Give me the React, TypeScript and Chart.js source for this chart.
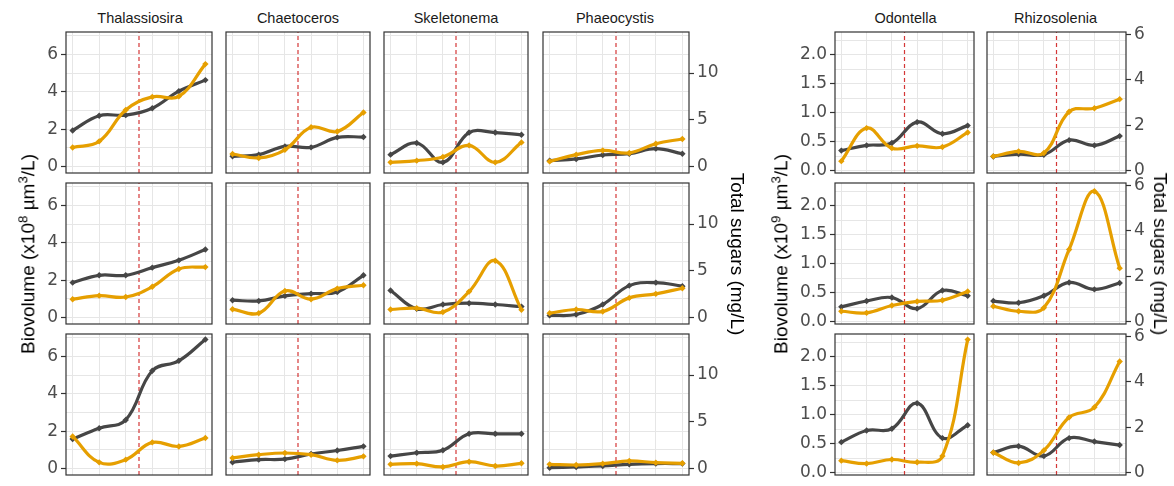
import React, { useEffect, useRef } from "react";
import { Chart, registerables } from "chart.js";

Chart.register(...registerables);

// ---------------- DATA ----------------
const TIMEPOINTS = [1, 2, 3, 4, 5, 6];
const INTERVENTION_X = 3.5;

const SPECIES_LEFT = ["Thalassiosira", "Chaetoceros", "Skeletonema", "Phaeocystis"];
const SPECIES_RIGHT = ["Odontella", "Rhizosolenia"];

// Biovolume per row (rows 1-3); left group in x10^8 µm³/L, right group in x10^9 µm³/L
const THALASSIOSIRA_BIO = [
  [1.93, 2.72, 2.75, 3.12, 4.03, 4.62],
  [1.87, 2.26, 2.26, 2.67, 3.06, 3.64],
  [1.58, 2.16, 2.6, 5.23, 5.76, 6.9],
];
const THALASSIOSIRA_SUGAR = [
  [2.05, 2.7, 6.05, 7.45, 7.5, 10.95],
  [1.97, 2.35, 2.2, 3.3, 5.2, 5.4],
  [3.44, 0.67, 0.96, 2.8, 2.37, 3.27],
];
const CHAETOCEROS_BIO = [
  [0.55, 0.64, 1.08, 1.03, 1.56, 1.58],
  [0.93, 0.89, 1.16, 1.28, 1.37, 2.26],
  [0.34, 0.48, 0.51, 0.78, 0.97, 1.19],
];
const CHAETOCEROS_SUGAR = [
  [1.35, 0.93, 1.8, 4.2, 3.76, 5.78],
  [0.9, 0.48, 2.85, 1.97, 3.1, 3.46],
  [1.14, 1.49, 1.67, 1.49, 0.88, 1.31],
];
const SKELETONEMA_BIO = [
  [0.64, 1.26, 0.23, 1.82, 1.82, 1.7],
  [1.45, 0.47, 0.7, 0.77, 0.7, 0.59],
  [0.67, 0.85, 0.98, 1.86, 1.86, 1.86],
];
const SKELETONEMA_SUGAR = [
  [0.46, 0.64, 1.03, 2.27, 0.46, 2.59],
  [0.87, 1.01, 0.59, 2.78, 6.08, 0.83],
  [0.46, 0.53, 0.18, 0.74, 0.28, 0.57],
];
const PHAEOCYSTIS_BIO = [
  [0.32, 0.41, 0.62, 0.69, 0.96, 0.69],
  [0.12, 0.17, 0.7, 1.71, 1.87, 1.68],
  [0.05, 0.09, 0.14, 0.23, 0.27, 0.27],
];
const PHAEOCYSTIS_SUGAR = [
  [0.56, 1.28, 1.73, 1.46, 2.45, 2.95],
  [0.48, 0.87, 0.66, 2.11, 2.54, 3.14],
  [0.46, 0.39, 0.53, 0.82, 0.64, 0.57],
];
const ODONTELLA_BIO = [
  [0.35, 0.44, 0.48, 0.84, 0.64, 0.78],
  [0.26, 0.36, 0.42, 0.23, 0.54, 0.45],
  [0.53, 0.73, 0.76, 1.2, 0.6, 0.82],
];
const ODONTELLA_SUGAR = [
  [0.43, 1.88, 1.0, 1.1, 1.05, 1.69],
  [0.47, 0.4, 0.72, 0.9, 0.95, 1.34],
  [0.54, 0.41, 0.59, 0.47, 0.74, 5.85],
];
const RHIZOSOLENIA_BIO = [
  [0.25, 0.29, 0.28, 0.53, 0.44, 0.6],
  [0.36, 0.33, 0.45, 0.68, 0.56, 0.67],
  [0.35, 0.46, 0.29, 0.6, 0.54, 0.48],
];
const RHIZOSOLENIA_SUGAR = [
  [0.64, 0.86, 0.79, 2.6, 2.75, 3.15],
  [0.69, 0.47, 0.62, 3.18, 5.73, 2.36],
  [0.9, 0.44, 0.99, 2.44, 2.88, 4.89],
];

// Axis ticks
const LEFT_BIO_TICKS = [0, 2, 4, 6];
const LEFT_BIO_GRID = [0, 1, 2, 3, 4, 5, 6, 7];
const LEFT_SUGAR_TICKS = [0, 5, 10];
const RIGHT_BIO_TICKS = [0, 0.5, 1, 1.5, 2];
const RIGHT_BIO_GRID = [0, 0.25, 0.5, 0.75, 1, 1.25, 1.5, 1.75, 2, 2.25];
const RIGHT_SUGAR_TICKS = [0, 2, 4, 6];
const LEFT_BIO_RANGE = [-0.34, 7.19];
const LEFT_SUGAR_FACTOR = 2;
const RIGHT_BIO_RANGE = [-0.035, 2.39];
const RIGHT_SUGAR_FACTOR = 2.55;
const X_RANGE = [0.75, 6.25];

// ---------------- STYLE / LAYOUT ----------------
const DARK = "#464646";
const ORANGE = "#E69F00";
const RED = "rgba(205,20,20,0.85)";
const GRID = "#e6e6e6";
const AXIS = "#333333";
const TICK_TEXT = "#4d4d4d";
const FONT = "'Liberation Sans', Arial, sans-serif";
const TICK_FONT = "'DejaVu Sans', 'Liberation Sans', sans-serif";

const ROWS_Y = [32, 183, 334];
const PANEL_H = 141;
const LEFT_COLS_X = [66, 224, 382, 541];
const LEFT_W = 148;
const RIGHT_COLS_X = [835, 985];
const RIGHT_W = 141;
const AXL = 60;
const AXR = 45;
const PAD = 2;
const PADV = 12;

type Group = {
  bioRange: number[];
  factor: number;
  bioTicks: number[];
  bioGrid: number[];
  sugarTicks: number[];
  fmt: (v: number) => string;
};

const LEFT_GROUP: Group = {
  bioRange: LEFT_BIO_RANGE,
  factor: LEFT_SUGAR_FACTOR,
  bioTicks: LEFT_BIO_TICKS,
  bioGrid: LEFT_BIO_GRID,
  sugarTicks: LEFT_SUGAR_TICKS,
  fmt: (v) => String(v),
};
const RIGHT_GROUP: Group = {
  bioRange: RIGHT_BIO_RANGE,
  factor: RIGHT_SUGAR_FACTOR,
  bioTicks: RIGHT_BIO_TICKS,
  bioGrid: RIGHT_BIO_GRID,
  sugarTicks: RIGHT_SUGAR_TICKS,
  fmt: (v) => v.toFixed(1),
};

const framePlugin = {
  id: "frame",
  afterDraw(chart: any) {
    const { ctx, chartArea: a } = chart;
    ctx.save();
    ctx.strokeStyle = AXIS;
    ctx.lineWidth = 1.2;
    ctx.strokeRect(a.left, a.top, a.right - a.left, a.bottom - a.top);
    ctx.restore();
  },
};

function zeroPad(s: any) {
  s.paddingTop = 0;
  s.paddingBottom = 0;
  s.paddingLeft = 0;
  s.paddingRight = 0;
}

type PanelProps = {
  bio: number[];
  sugar: number[];
  group: Group;
  x: number;
  y: number;
  w: number;
  h: number;
  first: boolean;
  last: boolean;
};

function Panel(p: PanelProps) {
  const ref = useRef<HTMLCanvasElement>(null);
  const extL = p.first ? AXL : PAD;
  const extR = p.last ? AXR : PAD;
  const cw = p.w + extL + extR;
  const ch = p.h + 2 * PADV;

  useEffect(() => {
    const g = p.group;
    const tickFont = { family: TICK_FONT, size: 17 };
    const chart = new Chart(ref.current as HTMLCanvasElement, {
      type: "line",
      data: {
        datasets: [
          {
            label: "Total sugars",
            data: TIMEPOINTS.map((t, i) => ({ x: t, y: p.sugar[i] })),
            yAxisID: "y2",
            borderColor: ORANGE,
            backgroundColor: ORANGE,
            borderWidth: 3.2,
            pointStyle: "rectRot",
            pointRadius: 3.2,
            pointBorderWidth: 0,
            tension: 0.4,
            order: 1,
          },
          {
            label: "Biovolume",
            data: TIMEPOINTS.map((t, i) => ({ x: t, y: p.bio[i] })),
            yAxisID: "y",
            borderColor: DARK,
            backgroundColor: DARK,
            borderWidth: 3.2,
            pointStyle: "rectRot",
            pointRadius: 3.2,
            pointBorderWidth: 0,
            tension: 0.4,
            order: 2,
          },
          {
            label: "Intervention",
            data: [
              { x: INTERVENTION_X, y: g.bioRange[0] },
              { x: INTERVENTION_X, y: g.bioRange[1] },
            ],
            yAxisID: "y",
            borderColor: RED,
            borderWidth: 1.2,
            borderDash: [4, 3],
            pointRadius: 0,
            tension: 0,
            order: 3,
          },
        ],
      } as any,
      options: {
        animation: false,
        responsive: false,
        events: [],
        layout: {
          padding: {
            left: p.first ? 0 : PAD,
            right: p.last ? 0 : PAD,
            top: PADV,
            bottom: PADV,
          },
        },
        plugins: { legend: { display: false }, tooltip: { enabled: false } },
        scales: {
          x: {
            type: "linear",
            min: X_RANGE[0],
            max: X_RANGE[1],
            afterBuildTicks: (s: any) => {
              s.ticks = TIMEPOINTS.map((v) => ({ value: v }));
            },
            afterFit: (s: any) => {
              s.height = 0;
              zeroPad(s);
            },
            ticks: { display: false },
            grid: { color: GRID, lineWidth: 1, drawTicks: false },
            border: { display: false },
          },
          y: {
            type: "linear",
            position: "left",
            min: g.bioRange[0],
            max: g.bioRange[1],
            afterBuildTicks: (s: any) => {
              s.ticks = g.bioGrid.map((v) => ({ value: v }));
            },
            afterFit: (s: any) => {
              s.width = p.first ? AXL : 0;
              zeroPad(s);
            },
            ticks: {
              display: p.first,
              autoSkip: false,
              padding: 3,
              font: tickFont,
              color: TICK_TEXT,
              callback: (v: any) => (g.bioTicks.includes(Number(v)) ? g.fmt(Number(v)) : ""),
            },
            grid: {
              color: GRID,
              lineWidth: 1,
              drawTicks: p.first,
              tickLength: 5,
              tickWidth: 1.2,
              tickColor: (c: any) =>
                c.tick && g.bioTicks.includes(c.tick.value) ? AXIS : "rgba(0,0,0,0)",
            },
            border: { display: false },
          },
          y2: {
            type: "linear",
            position: "right",
            display: p.last,
            min: g.bioRange[0] * g.factor,
            max: g.bioRange[1] * g.factor,
            afterBuildTicks: (s: any) => {
              s.ticks = g.sugarTicks.map((v) => ({ value: v }));
            },
            afterFit: (s: any) => {
              s.width = p.last ? AXR : 0;
              zeroPad(s);
            },
            ticks: {
              autoSkip: false,
              padding: 3,
              font: tickFont,
              color: TICK_TEXT,
              callback: (v: any) => String(v),
            },
            grid: {
              drawOnChartArea: false,
              drawTicks: true,
              tickLength: 5,
              tickWidth: 1.2,
              tickColor: AXIS,
            },
            border: { display: false },
          },
        },
      } as any,
      plugins: [framePlugin],
    });
    return () => chart.destroy();
  }, []);

  return (
    <canvas
      ref={ref}
      width={cw}
      height={ch}
      style={{
        position: "absolute",
        left: p.x - extL,
        top: p.y - PADV,
        width: cw,
        height: ch,
        display: "block",
      }}
    />
  );
}

const LEFT_DATA = [
  [THALASSIOSIRA_BIO, THALASSIOSIRA_SUGAR],
  [CHAETOCEROS_BIO, CHAETOCEROS_SUGAR],
  [SKELETONEMA_BIO, SKELETONEMA_SUGAR],
  [PHAEOCYSTIS_BIO, PHAEOCYSTIS_SUGAR],
];
const RIGHT_DATA = [
  [ODONTELLA_BIO, ODONTELLA_SUGAR],
  [RHIZOSOLENIA_BIO, RHIZOSOLENIA_SUGAR],
];

function StripTitle({ text, x, w }: { text: string; x: number; w: number }) {
  return (
    <div
      style={{
        position: "absolute",
        left: x,
        top: 9,
        width: w,
        textAlign: "center",
        fontFamily: FONT,
        fontSize: 14.5,
        lineHeight: "18px",
        color: "#1a1a1a",
        whiteSpace: "nowrap",
      }}
    >
      {text}
    </div>
  );
}

function AxisTitle({ children, cx, cy, rot }: { children: any; cx: number; cy: number; rot: number }) {
  return (
    <div
      style={{
        position: "absolute",
        left: cx,
        top: cy,
        transform: `translate(-50%, -50%) rotate(${rot}deg)`,
        fontFamily: FONT,
        fontSize: 19,
        lineHeight: "22px",
        color: "#000",
        whiteSpace: "nowrap",
      }}
    >
      {children}
    </div>
  );
}

export default function App() {
  const panels: any[] = [];
  LEFT_DATA.forEach(([bio, sugar], c) => {
    ROWS_Y.forEach((y, r) => {
      panels.push(
        <Panel
          key={`L${c}-${r}`}
          bio={bio[r]}
          sugar={sugar[r]}
          group={LEFT_GROUP}
          x={LEFT_COLS_X[c]}
          y={y}
          w={LEFT_W}
          h={PANEL_H}
          first={c === 0}
          last={c === LEFT_DATA.length - 1}
        />
      );
    });
  });
  RIGHT_DATA.forEach(([bio, sugar], c) => {
    ROWS_Y.forEach((y, r) => {
      panels.push(
        <Panel
          key={`R${c}-${r}`}
          bio={bio[r]}
          sugar={sugar[r]}
          group={RIGHT_GROUP}
          x={RIGHT_COLS_X[c]}
          y={y}
          w={RIGHT_W}
          h={PANEL_H}
          first={c === 0}
          last={c === RIGHT_DATA.length - 1}
        />
      );
    });
  });

  const midY = ROWS_Y[0] + (ROWS_Y[2] + PANEL_H - ROWS_Y[0]) / 2;

  return (
    <div
      style={{
        position: "absolute",
        left: 0,
        top: 0,
        width: 1174,
        height: 486,
        background: "#fff",
        overflow: "hidden",
      }}
    >
      {SPECIES_LEFT.map((s, i) => (
        <StripTitle key={s} text={s} x={LEFT_COLS_X[i]} w={LEFT_W} />
      ))}
      {SPECIES_RIGHT.map((s, i) => (
        <StripTitle key={s} text={s} x={RIGHT_COLS_X[i]} w={RIGHT_W} />
      ))}
      {panels}
      <AxisTitle cx={26} cy={midY} rot={-90}>
        Biovolume (x10<sup style={{ fontSize: "0.7em" }}>8</sup> µm<sup style={{ fontSize: "0.7em" }}>3</sup>/L)
      </AxisTitle>
      <AxisTitle cx={737} cy={midY} rot={90}>
        Total sugars (mg/L)
      </AxisTitle>
      <AxisTitle cx={779} cy={midY} rot={-90}>
        Biovolume (x10<sup style={{ fontSize: "0.7em" }}>9</sup> µm<sup style={{ fontSize: "0.7em" }}>3</sup>/L)
      </AxisTitle>
      <AxisTitle cx={1160} cy={midY} rot={90}>
        Total sugars (mg/L)
      </AxisTitle>
    </div>
  );
}
